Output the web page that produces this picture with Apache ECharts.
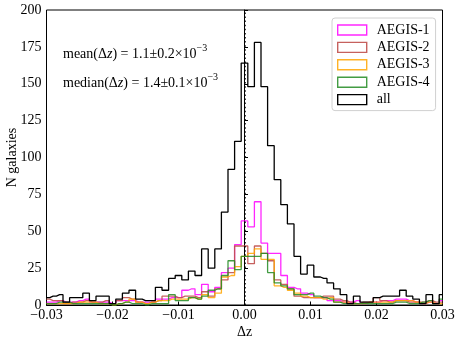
<!DOCTYPE html>
<html><head><meta charset="utf-8">
<script src="https://cdn.jsdelivr.net/npm/echarts@6/dist/echarts.min.js"></script>
<style>html,body{margin:0;padding:0;background:#fff}#c{width:458px;height:344px}</style>
</head><body><div id="c"></div>
<script>
// Histogram bins: centres from -0.030 to 0.030, width 0.001
const binStart = -0.030;
const binWidth = 0.001;
const seriesNames = ['AEGIS-1', 'AEGIS-2', 'AEGIS-3', 'AEGIS-4', 'all'];
const aegis1 = [2,2,3,2,2,3,4,2,2,2, 1,3,3,3,2,2,2,4,4,5, 5,10,11,7,14,9,12,22,25,41,
  57,53,70,42,35,35,20,12,11,8, 7,5,5,3,3,2,2,3,1,2, 2,3,3,4,4,3,2,1,2,1, 3];
const aegis2 = [4,3,3,1,2,2,3,2,2,3, 1,3,5,4,2,1,2,3,6,6, 5,6,6,5,9,6,11,17,22,40,
  40,28,40,35,30,17,14,11,6,5, 5,5,6,6,4,3,2,1,2,2, 5,3,2,3,3,2,2,2,3,2, 2];
const aegis3 = [1,1,1,1,1,2,2,2,1,1, 0,1,2,4,2,1,2,3,3,4, 4,4,5,4,7,5,8,19,20,26,
  33,35,38,31,31,13,12,10,8,6, 5,5,4,5,2,2,1,1,1,2, 2,2,2,3,3,3,2,1,2,1, 1];
const aegis4 = [1,1,2,2,1,1,1,1,1,1, 0,1,2,1,1,0,1,1,1,7, 3,3,5,4,6,10,11,20,30,24,
  33,33,33,35,22,15,13,11,7,7, 8,6,5,4,2,1,1,1,1,1, 1,1,1,2,2,1,1,2,3,1, 4];
const allGal = [5,6,7,2,5,5,8,3,6,6, 1,4,8,10,4,3,3,12,10,18, 20,17,23,20,38,25,38,63,92,111,
  164,148,178,148,108,85,68,55,33,21, 27,19,18,15,11,7,1,6,2,2, 5,6,6,6,10,6,4,1,7,1, 7];
const colors = ['rgba(255,0,255,0.85)', 'rgba(192,80,77,0.9)', 'rgba(255,165,0,0.85)', 'rgba(34,139,34,0.85)', '#000'];
const xTicks = [-0.03, -0.02, -0.01, 0.00, 0.01, 0.02, 0.03];
const yTicks = [0, 25, 50, 75, 100, 125, 150, 175, 200];
const meanText = ['mean(Δ', 'z', ') = 1.1±0.2×10', '−3'];
const medianText = ['median(Δ', 'z', ') = 1.4±0.1×10', '−3'];

const FONT = '"Liberation Serif", "Times New Roman", serif';
const values = [aegis1, aegis2, aegis3, aegis4, allGal];
function pts(arr) { return arr.map((v, i) => [binStart + i * binWidth, v]); }

const series = values.map((arr, i) => ({
  name: seriesNames[i], type: 'line', step: 'middle', data: pts(arr),
  showSymbol: false, symbol: 'none', clip: true,
  lineStyle: { color: colors[i], width: 1.3 },
  itemStyle: { color: colors[i] },
  z: 2 + i,
  silent: true,
}));
series[4].markLine = {
  silent: true, symbol: 'none', label: { show: false },
  lineStyle: { color: '#000', type: [1.5, 2.6], width: 1.5 },
  data: [{ xAxis: 0 }]
};

function richLine(parts) {
  return '{a|' + parts[0] + '}{i|' + parts[1] + '}{a|' + parts[2] + '}{s|' + parts[3] + '}';
}
const rich = {
  a: { fontFamily: FONT, fontSize: 14, fill: '#000', lineHeight: 18, verticalAlign: 'bottom' },
  i: { fontFamily: FONT, fontSize: 14, fontStyle: 'italic', fill: '#000', lineHeight: 18, verticalAlign: 'bottom' },
  s: { fontFamily: FONT, fontSize: 10, fill: '#000', lineHeight: 18, verticalAlign: 'top' }
};

const chart = echarts.init(document.getElementById('c'), null, { renderer: 'canvas' });
chart.setOption({
  animation: false,
  backgroundColor: '#fff',
  grid: { left: 46.5, right: 15.5, top: 10, bottom: 39, show: true, borderColor: '#000', borderWidth: 1,
    containLabel: false, outerBoundsMode: 'none' },
  xAxis: {
    type: 'value', min: xTicks[0], max: xTicks[xTicks.length - 1], interval: 0.01,
    name: 'Δz', nameLocation: 'middle', nameGap: 20, nameMoveOverlap: false,
    nameTextStyle: { fontFamily: FONT, fontSize: 14, color: '#000' },
    axisLine: { lineStyle: { color: '#000', width: 1 } },
    axisTick: { inside: true, length: 3.5, lineStyle: { color: '#000' } },
    axisLabel: { fontFamily: FONT, fontSize: 14, color: '#000', margin: 3,
      formatter: v => { const r = Math.round(v * 100) / 100; return (r < 0 ? '−' : '') + Math.abs(r).toFixed(2); } },
    splitLine: { show: false }
  },
  yAxis: {
    type: 'value', min: yTicks[0], max: yTicks[yTicks.length - 1], interval: 25,
    name: 'N galaxies', nameLocation: 'middle', nameGap: 27.5, nameMoveOverlap: false,
    nameTextStyle: { fontFamily: FONT, fontSize: 14, color: '#000' },
    axisLine: { show: true, lineStyle: { color: '#000', width: 1 } },
    axisTick: { show: true, inside: true, length: 3.5, lineStyle: { color: '#000' } },
    axisLabel: { fontFamily: FONT, fontSize: 14, color: '#000', margin: 5 },
    splitLine: { show: false }
  },
  legend: {
    orient: 'vertical', left: 332, top: 18, padding: [5, 6, 4, 5],
    itemWidth: 29, itemHeight: 10, itemGap: 3.4,
    backgroundColor: 'rgba(255,255,255,0.8)', borderColor: '#d0d0d0', borderWidth: 1, borderRadius: 3,
    textStyle: { fontFamily: FONT, fontSize: 14, color: '#000', padding: [0, 0, 0, 5] },
    data: seriesNames.map((n, i) => ({ name: n, icon: 'rect',
      itemStyle: { color: 'rgba(0,0,0,0)', borderColor: colors[i], borderWidth: 1.4 } })),
    selectedMode: false
  },
  graphic: [
    { type: 'text', left: 63, top: 43.5, silent: true, style: { text: richLine(meanText), rich: rich } },
    { type: 'text', left: 63, top: 72.5, silent: true, style: { text: richLine(medianText), rich: rich } }
  ],
  series: series
});
</script>
</body></html>
